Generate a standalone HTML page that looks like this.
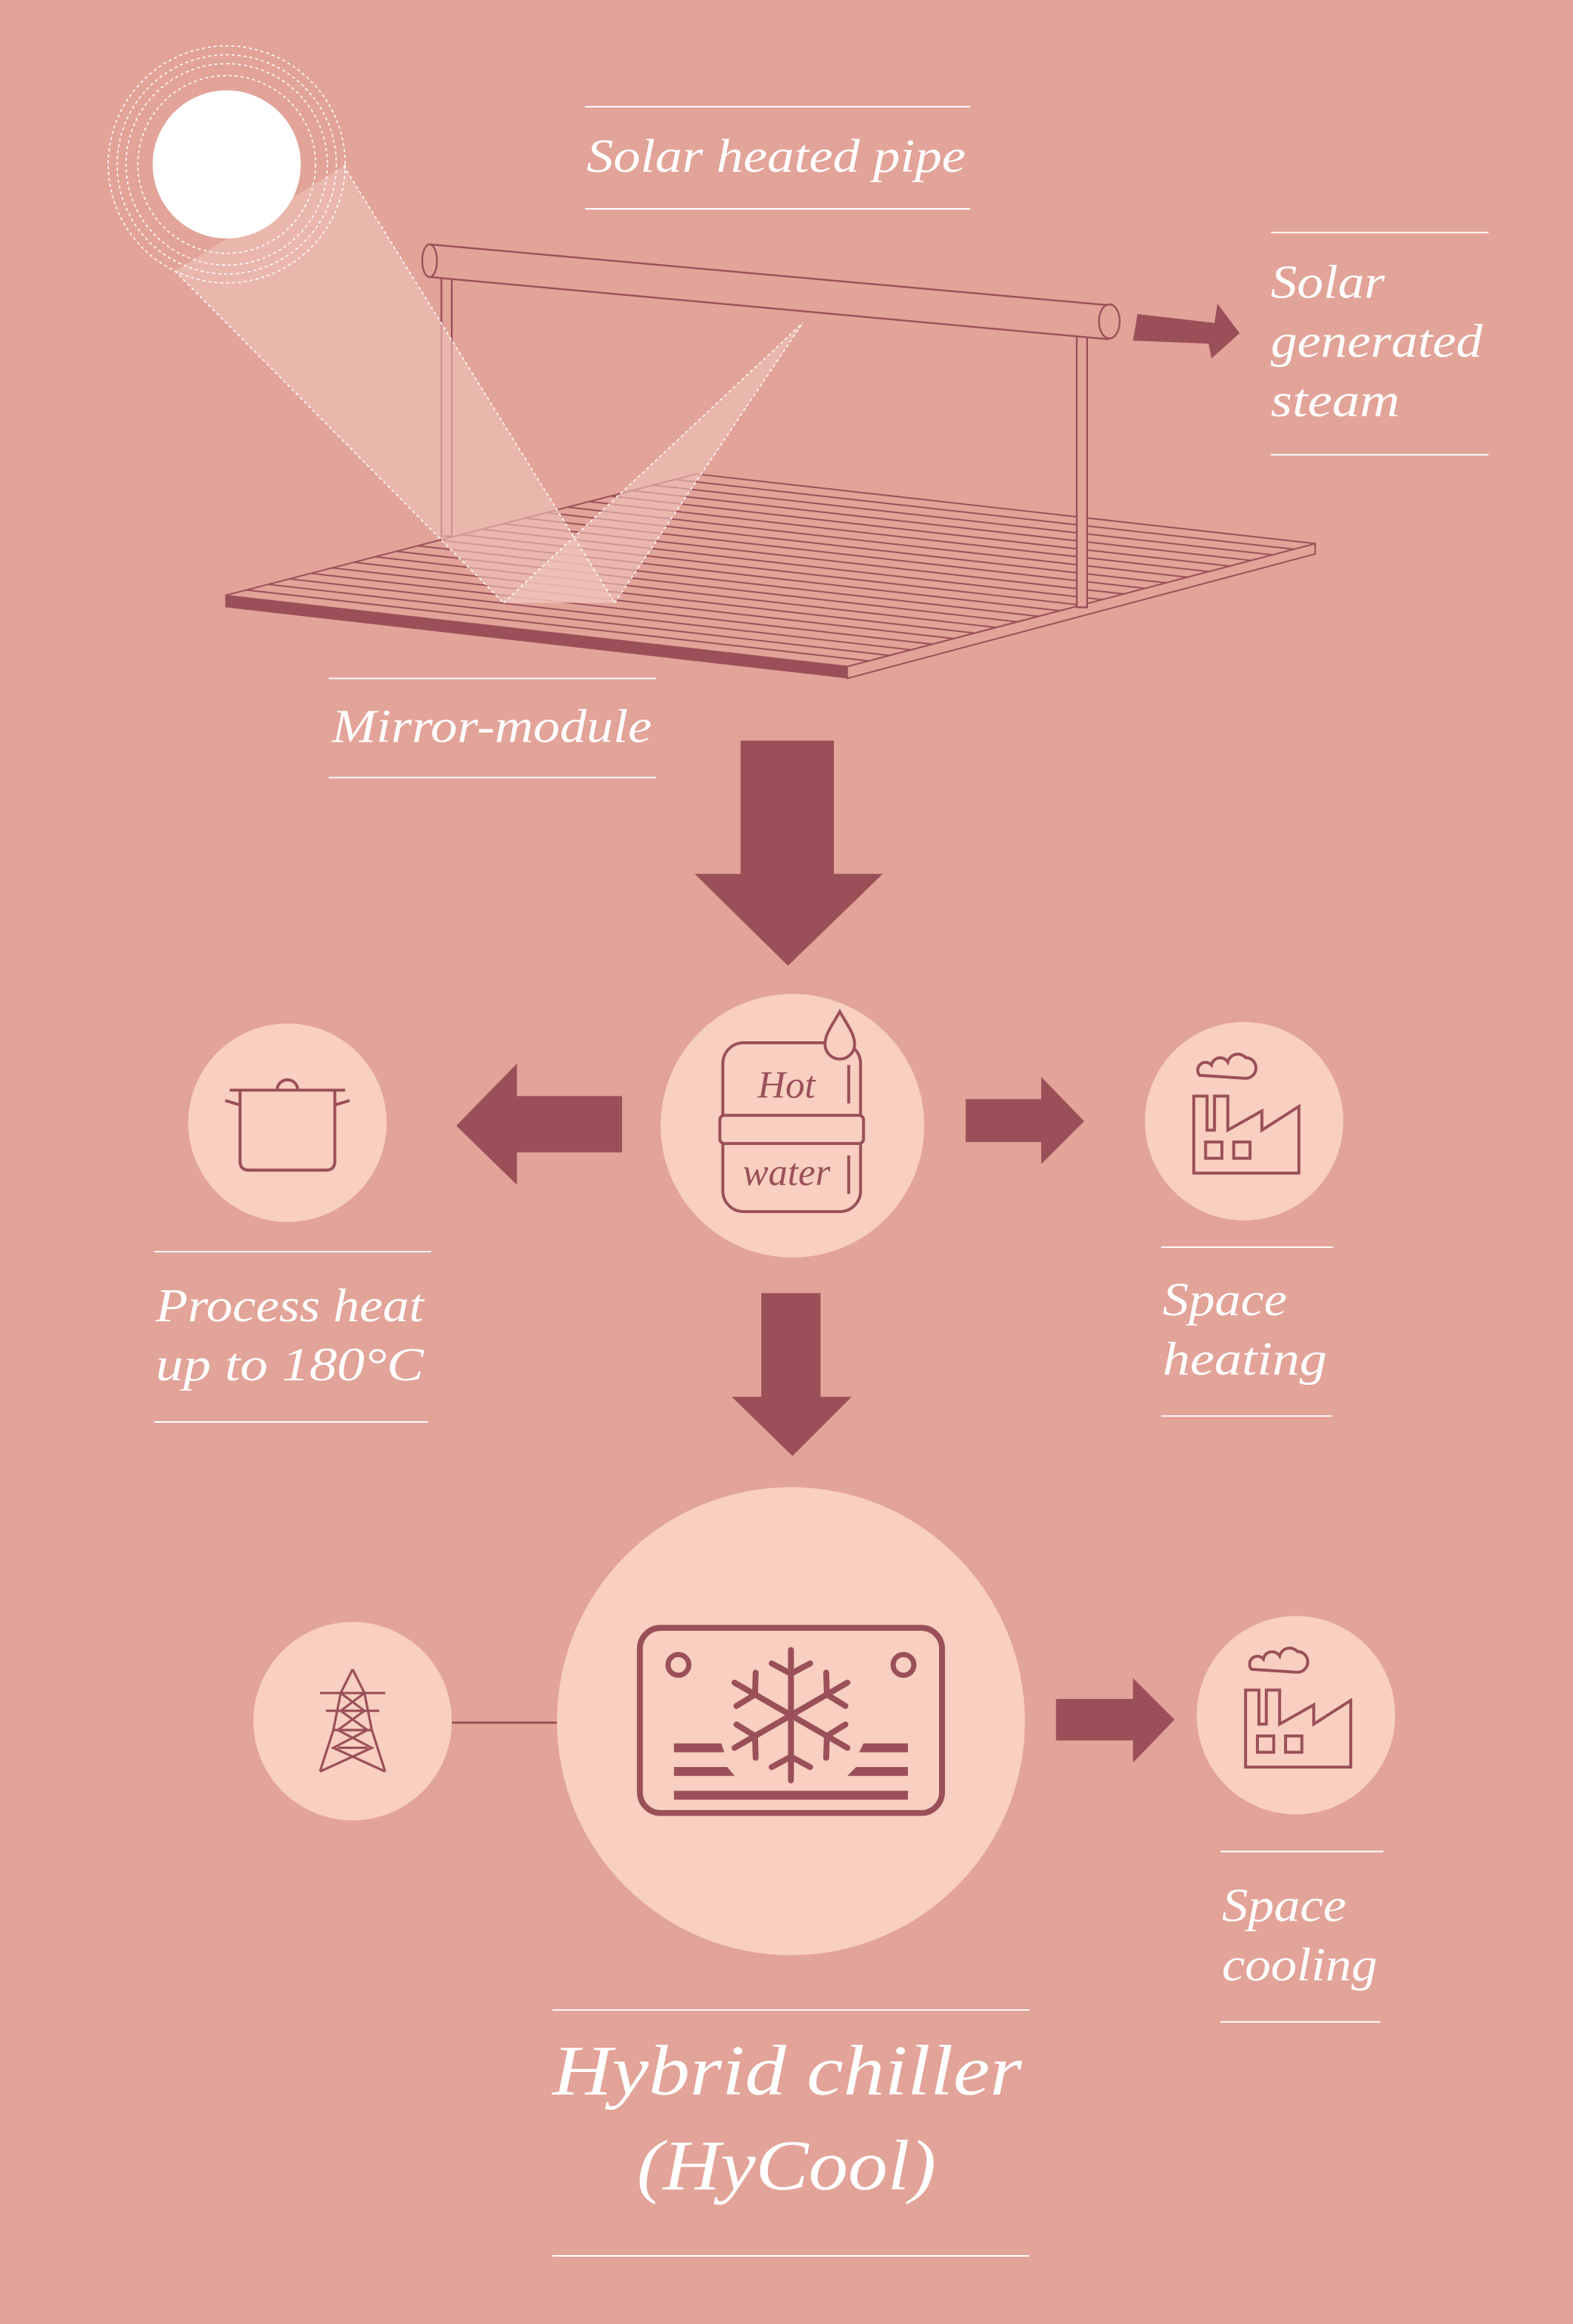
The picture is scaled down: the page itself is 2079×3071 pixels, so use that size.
<!DOCTYPE html>
<html><head><meta charset="utf-8"><style>
html,body{margin:0;padding:0;background:#e2a398;}
svg{display:block;}
text{font-family:"Liberation Serif",serif;font-style:italic;fill:#fff;}
</style></head><body>
<svg width="2079" height="3071" viewBox="0 0 1062 1569" xmlns="http://www.w3.org/2000/svg">
<rect width="1062" height="1569" fill="#e2a398"/>
<!-- mirror -->
<polygon points="152,402 572,450 572,458 152,410" fill="#9b5059"/>
<polygon points="572,450 888,367 888,374 572,458" fill="#e2a398" stroke="#9b5059" stroke-width="1"/>
<polygon points="152,402 470,320 888,367 572,450" fill="#e2a398" stroke="#9b5059" stroke-width="1"/>
<g stroke="#9b5059" stroke-width="1">
<line x1="166.5" y1="398.3" x2="586.4" y2="446.2"/><line x1="181" y1="394.5" x2="600.7" y2="442.5"/>
<line x1="195.4" y1="390.8" x2="615.1" y2="438.7"/><line x1="209.8" y1="387.1" x2="629.4" y2="434.9"/>
<line x1="224.3" y1="383.4" x2="643.8" y2="431.1"/><line x1="238.7" y1="379.6" x2="658.1" y2="427.4"/>
<line x1="253.2" y1="375.9" x2="672.5" y2="423.6"/><line x1="267.6" y1="372.2" x2="686.9" y2="419.8"/>
<line x1="282.1" y1="368.5" x2="701.2" y2="416.1"/><line x1="296.5" y1="364.7" x2="715.6" y2="412.3"/>
<line x1="311" y1="361" x2="729.9" y2="408.5"/><line x1="325.5" y1="357.3" x2="744.3" y2="404.8"/>
<line x1="339.9" y1="353.6" x2="758.6" y2="401"/><line x1="354.4" y1="349.8" x2="773" y2="397.2"/>
<line x1="368.8" y1="346.1" x2="787.4" y2="393.5"/><line x1="383.3" y1="342.4" x2="801.7" y2="389.7"/>
<line x1="397.7" y1="338.6" x2="816.1" y2="385.9"/><line x1="412.2" y1="334.9" x2="830.4" y2="382.2"/>
<line x1="426.6" y1="331.2" x2="844.8" y2="378.4"/><line x1="441.1" y1="327.5" x2="859.1" y2="374.6"/>
<line x1="455.5" y1="323.7" x2="873.5" y2="370.8"/>
</g>
<!-- pipe legs -->
<g stroke="#9b5059" stroke-width="1.2" fill="#e2a398">
<rect x="298" y="186" width="7" height="176"/>
<rect x="727" y="225" width="7" height="185"/>
</g>
<!-- light beams -->
<polygon points="118,183 232,112 415,407 340,407" fill="#f0c4bb" fill-opacity="0.6"/>
<polygon points="340,407 415,407 542,218" fill="#f0c4bb" fill-opacity="0.6"/>
<g stroke="#fff" stroke-width="0.8" stroke-dasharray="2,2" fill="none">
<line x1="118" y1="183" x2="340" y2="407"/><line x1="232" y1="112" x2="415" y2="407"/>
<line x1="340" y1="407" x2="542" y2="218"/><line x1="415" y1="407" x2="542" y2="218"/>
<circle cx="153" cy="111" r="60"/><circle cx="153" cy="111" r="68"/><circle cx="153" cy="111" r="74"/><circle cx="153" cy="111" r="80"/>
</g>
<circle cx="153" cy="111" r="50" fill="#fff"/>
<!-- pipe -->
<g stroke="#9b5059" stroke-width="1.2" fill="#e2a398">
<polygon points="290,165 748,206 748,229 290,187"/>
<ellipse cx="290" cy="176" rx="5" ry="11"/>
<ellipse cx="749" cy="217" rx="7" ry="11.5"/>
</g>
<polygon points="768,212 820,218 822,205 837,225 818,242 816,232 765,230" fill="#9b5059"/>
<!-- labels -->
<g stroke="#fff" stroke-width="1">
<line x1="395" y1="72" x2="655" y2="72"/><line x1="395" y1="141" x2="655" y2="141"/>
<line x1="858" y1="157" x2="1005" y2="157"/><line x1="858" y1="307" x2="1005" y2="307"/>
<line x1="222" y1="458" x2="443" y2="458"/><line x1="222" y1="525" x2="443" y2="525"/>
<line x1="104" y1="845" x2="291" y2="845"/><line x1="104" y1="960" x2="289" y2="960"/>
<line x1="784" y1="842" x2="900" y2="842"/><line x1="784" y1="956" x2="899" y2="956"/>
<line x1="824" y1="1250" x2="934" y2="1250"/><line x1="824" y1="1365" x2="932" y2="1365"/>
<line x1="373" y1="1357" x2="695" y2="1357"/><line x1="373" y1="1523" x2="695" y2="1523"/>
</g>
<g font-size="32" lengthAdjust="spacingAndGlyphs">
<text x="396" y="116" textLength="256" lengthAdjust="spacingAndGlyphs">Solar heated pipe</text>
<text x="858" y="201" textLength="77" lengthAdjust="spacingAndGlyphs">Solar</text>
<text x="858" y="241" textLength="143" lengthAdjust="spacingAndGlyphs">generated</text>
<text x="858" y="281" textLength="87" lengthAdjust="spacingAndGlyphs">steam</text>
<text x="224" y="501" textLength="216" lengthAdjust="spacingAndGlyphs">Mirror-module</text>
<text x="105" y="892" textLength="181" lengthAdjust="spacingAndGlyphs">Process heat</text>
<text x="105" y="932" textLength="181" lengthAdjust="spacingAndGlyphs">up to 180°C</text>
<text x="785" y="888" textLength="84" lengthAdjust="spacingAndGlyphs">Space</text>
<text x="785" y="928" textLength="111" lengthAdjust="spacingAndGlyphs">heating</text>
<text x="825" y="1297" textLength="84" lengthAdjust="spacingAndGlyphs">Space</text>
<text x="825" y="1337" textLength="105" lengthAdjust="spacingAndGlyphs">cooling</text>
</g>
<g font-size="48">
<text x="373" y="1414" textLength="317" lengthAdjust="spacingAndGlyphs">Hybrid chiller</text>
<text x="430" y="1478" textLength="202" lengthAdjust="spacingAndGlyphs">(HyCool)</text>
</g>
<!-- arrows -->
<g fill="#9b5059">
<polygon points="500,500 563,500 563,590 596,590 532,652 469,590 500,590"/>
<polygon points="420,740 349,740 349,718 308,760 349,800 349,778 420,778"/>
<polygon points="652,742 703,742 703,727 732,757 703,786 703,771 652,771"/>
<polygon points="514,873 554,873 554,943 575,943 535,983 494,943 514,943"/>
<polygon points="713,1147 765,1147 765,1133 793,1161 765,1190 765,1175 713,1175"/>
</g>
<line x1="305" y1="1163" x2="377" y2="1163" stroke="#9b5059" stroke-width="1.5"/>
<!-- circles -->
<g fill="#f8cfc0">
<circle cx="535" cy="760" r="89"/><circle cx="194" cy="758" r="67"/><circle cx="840" cy="757" r="67"/>
<circle cx="534" cy="1162" r="158"/><circle cx="238" cy="1162" r="67"/><circle cx="875" cy="1158" r="67"/>
</g>
<!-- hot water icon -->
<g stroke="#9b5059" stroke-width="2" fill="none">
<rect x="488" y="704" width="93" height="114" rx="14" fill="#f8cfc0"/>
<rect x="486" y="753" width="97" height="19" rx="3" fill="#f8cfc0"/>
<line x1="573" y1="719" x2="573" y2="745"/><line x1="573" y1="780" x2="573" y2="806"/>
<path d="M567,683 C562,692 557,698 557,705 A10,10 0 0 0 577,705 C577,698 572,692 567,683 Z" fill="#f8cfc0"/>
</g>
<g font-size="26" text-anchor="middle"><text x="531" y="741" style="fill:#9b5059">Hot</text><text x="531" y="800" style="fill:#9b5059">water</text></g>
<!-- pot -->
<g stroke="#9b5059" stroke-width="2" fill="none">
<path d="M162,736 L162,784 Q162,790 168,790 L220,790 Q226,790 226,784 L226,736"/>
<line x1="155" y1="736" x2="233" y2="736"/>
<path d="M187,736 A7,7 0 0 1 201,736"/>
<line x1="152" y1="743" x2="162" y2="746"/><line x1="236" y1="743" x2="226" y2="746"/>
</g>
<!-- factory -->
<g id="fac" stroke="#9b5059" stroke-width="2" fill="none">
<path d="M806,792 L806,740 L815,740 L815,763 L820,763 L820,740 L829,740 L829,763 L852,750 L852,763 L877,747 L877,792 Z"/>
<rect x="814" y="771" width="11" height="11"/><rect x="833" y="771" width="11" height="11"/>
<path d="M810,726 a5,5 0 0 1 8,-7 a6,6 0 0 1 11,-2 a7,7 0 0 1 12,-3 a7,7 0 0 1 0,14 Z"/>
</g>
<use href="#fac" x="35" y="401"/>
<!-- tower -->
<g stroke="#9b5059" stroke-width="1.6" fill="none">
<path d="M238,1127 L230,1143 L225,1168 L216,1196 M238,1127 L246,1143 L251,1168 L260,1196"/>
<line x1="216" y1="1143" x2="260" y2="1143"/><line x1="220" y1="1155" x2="256" y2="1155"/>
<line x1="225" y1="1168" x2="251" y2="1168"/><line x1="228" y1="1180" x2="248" y2="1180"/>
<path d="M230,1143 L246,1155 L228,1168 L251,1180 L216,1196 M246,1143 L230,1155 L248,1168 L225,1180 L260,1196"/>
</g>
<!-- chiller -->
<g stroke="#9b5059" stroke-width="4" fill="none" stroke-linecap="round">
<rect x="432" y="1099" width="204" height="125" rx="14"/>
<circle cx="458" cy="1124" r="7" stroke-width="3.5"/><circle cx="610" cy="1124" r="7" stroke-width="3.5"/>
<g transform="translate(534,1158)">
<g id="arm"><line x1="0" y1="0" x2="0" y2="-44"/><line x1="0" y1="-28" x2="-13" y2="-35"/><line x1="0" y1="-28" x2="13" y2="-35"/></g>
<use href="#arm" transform="rotate(60)"/><use href="#arm" transform="rotate(120)"/><use href="#arm" transform="rotate(180)"/><use href="#arm" transform="rotate(240)"/><use href="#arm" transform="rotate(300)"/>
</g>
</g>
<g fill="#9b5059">
<polygon points="455,1177 487,1177 489,1183 455,1183"/>
<polygon points="455,1209 613,1209 613,1215 455,1215"/>
<polygon points="455,1193 491,1193 496,1199 455,1199"/>
<polygon points="583,1177 613,1177 613,1183 580,1183"/>
<polygon points="578,1193 613,1193 613,1199 572,1199"/>
</g>
</svg>
</body></html>
